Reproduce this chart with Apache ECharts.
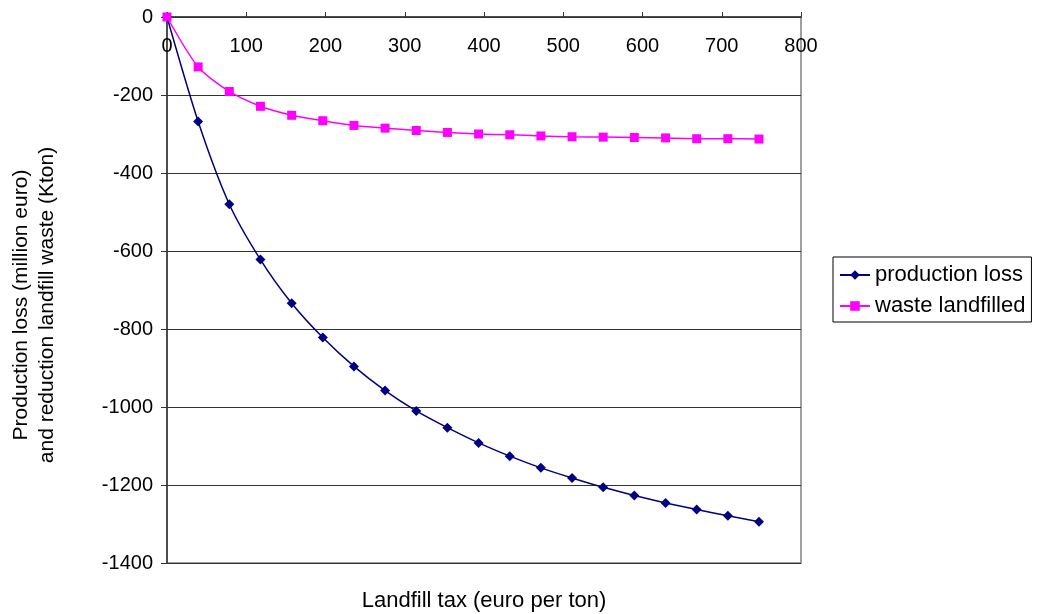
<!DOCTYPE html>
<html>
<head>
<meta charset="utf-8">
<script src="https://cdn.jsdelivr.net/npm/echarts@6/dist/echarts.min.js"></script>
<style>
  html, body { margin: 0; padding: 0; background: #fff; }
  #chart { width: 1039px; height: 614px; }
</style>
</head>
<body>
<div id="chart"></div>
<script>
// Landfill tax levels (euro per ton)
const taxLevels = [0, 39.3, 78.6, 117.9, 157.3, 196.6, 235.9, 275.2, 314.5, 353.8,
  393.2, 432.5, 471.8, 511.1, 550.4, 589.7, 629.1, 668.4, 707.7, 747];
// Production loss (million euro)
const productionLoss = [0, -268, -480, -622, -734, -822, -896, -958, -1010, -1053,
  -1092, -1126, -1156, -1182, -1206, -1227, -1246, -1263, -1279, -1294];
// Reduction of landfilled waste (Kton)
const wasteLandfilled = [0, -128, -191, -229, -252, -266, -278, -285, -291, -296,
  -300, -302, -305, -307, -308, -309, -310, -312, -312, -313];

const seriesNames = ['production loss', 'waste landfilled'];
const xTitle = 'Landfill tax (euro per ton)';
const yTitle = 'Production loss (million euro)\nand reduction landfill waste (Kton)';

const FONT = '"Liberation Sans", Arial, Helvetica, sans-serif';

const pairs = (xs, ys) => xs.map((x, i) => [x, ys[i]]);

const chart = echarts.init(document.getElementById('chart'), null, { renderer: 'canvas' });

chart.setOption({
  animation: false,
  backgroundColor: '#ffffff',
  grid: {
    left: 167, right: 238, top: 17, bottom: 51,
    show: true, borderColor: '#808080', borderWidth: 1.5,
    backgroundColor: 'transparent'
  },
  xAxis: {
    type: 'value',
    position: 'top',
    min: 0, max: 800, interval: 100,
    axisLine: { show: true, onZero: false, lineStyle: { color: '#333', width: 1.5 } },
    axisTick: { show: true, inside: false, length: 5, lineStyle: { color: '#333', width: 1 } },
    axisLabel: {
      inside: true, margin: 19,
      color: '#000', fontSize: 20, fontFamily: FONT,
      formatter: v => String(v)
    },
    splitLine: { show: false }
  },
  yAxis: {
    type: 'value',
    min: -1400, max: 0, interval: 200,
    axisLine: { show: true, lineStyle: { color: '#333', width: 1.5 } },
    axisTick: { show: true, length: 6, lineStyle: { color: '#333', width: 1 } },
    axisLabel: {
      margin: 14, color: '#000', fontSize: 20, fontFamily: FONT,
      formatter: v => String(v)
    },
    splitLine: { show: true, lineStyle: { color: '#333', width: 1 } }
  },
  legend: {
    orient: 'vertical',
    left: 833, top: 257,
    padding: [6, 6, 4, 6],
    itemWidth: 30, itemHeight: 12,
    itemGap: 7,
    borderColor: '#000', borderWidth: 1,
    backgroundColor: '#fff',
    textStyle: { color: '#000', fontSize: 22, fontFamily: FONT, lineHeight: 24 },
    data: seriesNames
  },
  graphic: [
    {
      type: 'text',
      x: 484, y: 601,
      style: {
        text: xTitle, fill: '#000', fontSize: 22, fontFamily: FONT,
        align: 'center', verticalAlign: 'middle'
      }
    },
    {
      type: 'text',
      x: 34, y: 305,
      rotation: Math.PI / 2,
      style: {
        text: yTitle, fill: '#000', fontSize: 21, fontFamily: FONT,
        align: 'center', verticalAlign: 'middle', lineHeight: 26
      }
    }
  ],
  series: [
    {
      name: seriesNames[0],
      type: 'line',
      data: pairs(taxLevels, productionLoss),
      smooth: 0.25,
      symbol: 'diamond',
      symbolSize: 10,
      itemStyle: { color: '#000080' },
      lineStyle: { color: '#000080', width: 1.5 },
      z: 3
    },
    {
      name: seriesNames[1],
      type: 'line',
      data: pairs(taxLevels, wasteLandfilled),
      smooth: 0.25,
      symbol: 'rect',
      symbolSize: 9,
      itemStyle: { color: '#ff00ff' },
      lineStyle: { color: '#ff00ff', width: 1.5 },
      z: 4
    }
  ]
});
</script>
</body>
</html>
